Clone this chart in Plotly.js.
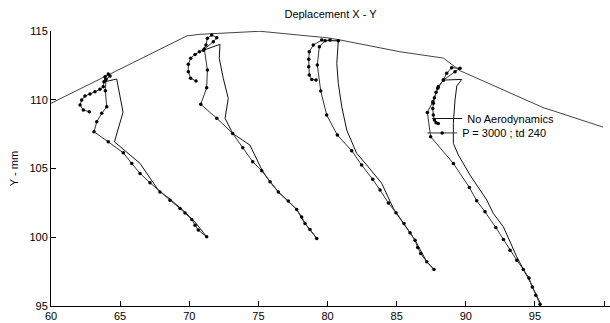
<!DOCTYPE html>
<html><head><meta charset="utf-8">
<script src="https://cdn.plot.ly/plotly-3.0.1.min.js"></script>
<style>html,body{margin:0;padding:0;background:#fff}#chart{width:610px;height:323px}</style>
</head><body><div id="chart"></div>
<script>
// Envelope (tips) line
const envX = [60.00, 69.82, 70.78, 75.12, 79.94, 80.90, 85.24, 88.38, 89.59, 95.66, 96.31, 99.93];
const envY = [109.74, 114.64, 114.76, 114.98, 114.51, 114.35, 113.49, 113.03, 112.11, 109.40, 109.20, 108.01];

// "No Aerodynamics" (four runs, separated by null)
const noAeroX = [
  63.83, 64.75, 65.21, 64.59, 66.44, 67.76, 68.61, 69.69, 70.42, 71.26, null,
  71.02, 72.22, 72.17, 72.46, 72.82, 72.59, 73.14, 74.39, 75.26, 75.84, 76.44, 77.16, 77.77, 78.37, 79.22, null,
  80.78, 80.67, 80.78, 81.03, 81.39, 82.11, 82.84, 83.56, 83.92, 84.76, 85.53, 86.33, 87.18, 87.70, null,
  88.38, 89.71, 89.35, 89.22, 89.10, 89.10, 89.46, 90.31, 91.52, 91.99, 92.72, 93.69, 94.65, 95.42
];
const noAeroY = [
  111.29, 111.51, 109.10, 106.94, 105.37, 103.43, 102.77, 101.83, 101.10, 100.03, null,
  113.60, 114.03, 113.01, 111.56, 110.10, 108.65, 107.55, 106.70, 104.88, 104.03, 103.30, 102.63, 102.02, 101.00, 99.91, null,
  114.29, 112.65, 111.19, 109.49, 107.79, 106.10, 105.25, 104.40, 103.92, 102.10, 101.00, 99.79, 98.21, 97.66, null,
  111.43, 111.48, 111.00, 109.98, 108.28, 106.83, 105.98, 104.52, 102.70, 101.73, 100.76, 98.57, 96.75, 95.13
];

// "P = 3000 ; td 240" (four runs, separated by null)
const aeroX = [
  62.77, 62.34, 62.10, 62.22, 62.46, 62.82, 63.18, 63.54, 63.78, 63.83, 63.91, 64.14, 64.27, 63.98, 63.93, 64.03, 63.67, 63.31, 63.11, 64.14, 65.23, 65.84, 66.44, 67.16, 67.88, 68.61, 69.33, 69.69, 70.18, 70.42, 70.65, 71.26, null,
  70.49, 70.10, 69.93, 69.93, 70.10, 70.42, 70.73, 71.02, 71.21, 71.31, 71.62, 71.99, 71.74, 71.09, 71.31, 71.26, 70.83, 71.99, 73.14, 73.87, 74.59, 75.24, 75.84, 76.44, 77.16, 77.77, 78.13, 78.37, 78.73, 79.22, null,
  79.17, 78.86, 78.68, 78.64, 78.64, 78.68, 78.97, 79.58, 80.18, 80.78, 79.82, 79.41, 79.26, 79.51, 79.94, 80.71, 81.75, 82.47, 83.27, 83.80, 84.40, 84.95, 85.53, 85.97, 86.33, 86.52, 86.74, 87.18, 87.70, null,
  88.01, 87.85, 87.73, 87.65, 87.61, 87.65, 87.73, 87.85, 88.01, 88.38, 88.62, 88.98, 89.58, 89.22, 88.38, 87.97, 87.61, 87.22, 87.46, 89.10, 90.26, 90.79, 91.39, 92.17, 92.72, 93.20, 93.69, 94.16, 94.57, 94.81, 95.06, 95.37
];
const aeroY = [
  109.13, 109.25, 109.61, 109.98, 110.27, 110.41, 110.58, 110.76, 110.95, 111.31, 111.67, 111.87, 111.72, 111.48, 110.65, 109.49, 109.01, 108.40, 107.67, 106.94, 106.14, 105.37, 104.64, 103.96, 103.30, 102.70, 102.09, 101.77, 101.30, 100.88, 100.52, 100.03, null,
  111.36, 111.56, 112.04, 112.58, 113.01, 113.30, 113.49, 113.60, 113.98, 114.47, 114.71, 114.51, 114.22, 113.69, 112.16, 110.87, 109.67, 108.65, 107.55, 106.51, 105.49, 104.83, 104.03, 103.30, 102.63, 102.02, 101.48, 101.00, 100.57, 99.91, null,
  111.43, 111.48, 111.80, 112.40, 112.94, 113.49, 113.98, 114.34, 114.34, 114.29, 114.29, 113.86, 112.53, 110.63, 108.89, 107.43, 106.29, 105.25, 104.21, 103.43, 102.50, 101.78, 101.00, 100.32, 99.79, 99.26, 98.82, 98.21, 97.66, null,
  108.28, 108.33, 108.52, 108.89, 109.37, 109.74, 110.15, 110.54, 110.95, 111.43, 111.92, 112.33, 112.29, 112.04, 111.43, 110.83, 109.85, 109.08, 107.31, 105.37, 103.62, 102.65, 101.85, 100.71, 99.84, 99.06, 98.33, 97.66, 97.04, 96.39, 95.79, 95.13
];

const xTicks = [60, 65, 70, 75, 80, 85, 90, 95, 100];
const yTicks = [95, 100, 105, 110, 115];
const seriesNames = ['No Aerodynamics', 'P = 3000 ; td 240'];
const titleText = 'Deplacement X - Y';
const yTitleText = 'Y - mm';

const FONT = 'Liberation Sans, Arial, Helvetica, sans-serif';

const traces = [
  {x: envX, y: envY, mode: 'lines', line: {color: '#444', width: 1}, showlegend: false, hoverinfo: 'skip'},
  {x: noAeroX, y: noAeroY, mode: 'lines', name: seriesNames[0], connectgaps: false, legend: 'legend',
   line: {color: '#111', width: 1}},
  {x: aeroX, y: aeroY, mode: 'lines+markers', name: seriesNames[1], connectgaps: false, legend: 'legend2',
   line: {color: '#333', width: 1}, marker: {color: '#000', size: 3.5}}
];

const legendBase = {xanchor: 'left', yanchor: 'top', bgcolor: 'rgba(0,0,0,0)', borderwidth: 0,
                    font: {family: FONT, size: 11, color: '#000'}, itemwidth: 30};

const layout = {
  width: 610, height: 323,
  margin: {l: 51, r: 0, t: 31, b: 17, pad: 0},
  paper_bgcolor: '#fff', plot_bgcolor: '#fff',
  font: {family: FONT, size: 11, color: '#000'},
  title: {text: titleText, xref: 'paper', x: 0.5, xanchor: 'center', yref: 'container', y: 0.955, yanchor: 'middle',
          font: {family: FONT, size: 11, color: '#000'}},
  xaxis: {range: [60, 100.43], tickvals: xTicks, ticktext: xTicks.map(String), ticks: 'inside', ticklen: 5,
          tickcolor: '#000', showline: true, linecolor: '#000', linewidth: 1, showgrid: false, zeroline: false,
          tickfont: {family: FONT, size: 11, color: '#000'}, mirror: false},
  yaxis: {range: [95, 115], tickvals: yTicks, ticktext: yTicks.map(String), ticks: 'inside', ticklen: 5,
          tickcolor: '#000', showline: true, linecolor: '#000', linewidth: 1, showgrid: false, zeroline: false,
          tickfont: {family: FONT, size: 11, color: '#000'},
          title: {text: yTitleText, font: {family: FONT, size: 11, color: '#000'}, standoff: 8}},
  showlegend: true,
  legend: Object.assign({}, legendBase, {x: 0.673, y: 0.7345}),
  legend2: Object.assign({}, legendBase, {x: 0.664, y: 0.682})
};

Plotly.newPlot('chart', traces, layout, {staticPlot: true, displayModeBar: false});
</script>
</body></html>
